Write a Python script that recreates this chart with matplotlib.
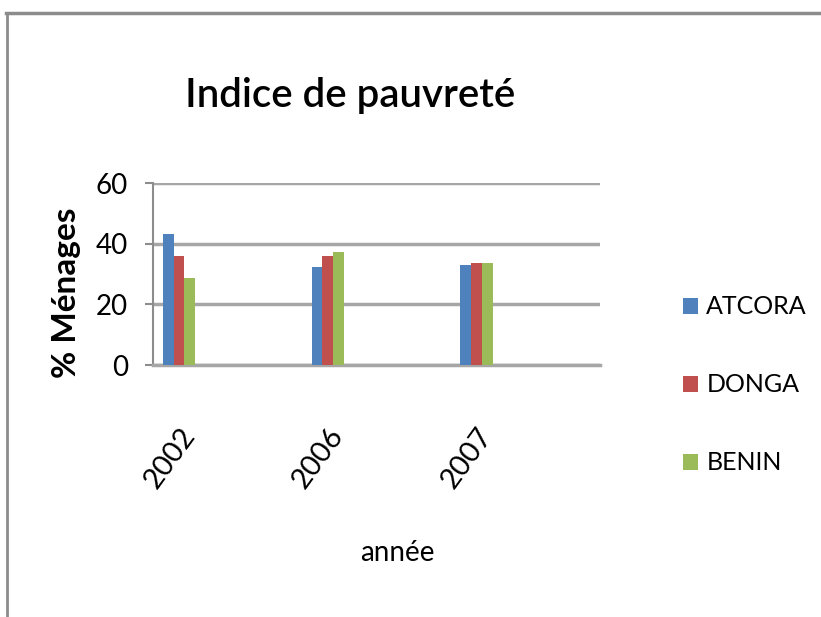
import numpy as np
import matplotlib
matplotlib.use("Agg")
import matplotlib.pyplot as plt
from matplotlib.lines import Line2D
from matplotlib.patches import Patch

plt.rcParams['font.family'] = ['Lato', 'DejaVu Sans']

years = ['2002', '2006', '2007']
series = ['ATCORA', 'DONGA', 'BENIN']
atcora = [43.2, 32.4, 33.0]
donga = [36.0, 36.0, 33.5]
benin = [28.6, 37.3, 33.5]
colors = ['#4F81BD', '#C0504D', '#9BBB59']

fig = plt.figure(figsize=(8.21, 6.17), dpi=100)

# chart frame (only top and left edges visible)
fig.add_artist(Line2D([6 / 821, 1.0], [1 - 13 / 617, 1 - 13 / 617],
                      transform=fig.transFigure, color='#8c8c8c', lw=2.5))
fig.add_artist(Line2D([7 / 821, 7 / 821], [0.0, 1 - 13 / 617],
                      transform=fig.transFigure, color='#8c8c8c', lw=2.0))

ax = fig.add_axes([153 / 821, 1 - 365 / 617, 447 / 821, 182 / 617])

x = np.arange(len(years))
w = 0.0726
for i, (vals, name) in enumerate(zip([atcora, donga, benin], series)):
    ax.bar(x + (i - 1) * w, vals, width=w, color=colors[i], label=name, zorder=3)

ax.set_xlim(-0.175, 2.83)
ax.set_ylim(0, 60)
ax.set_yticks([0, 20, 40, 60])
ax.yaxis.grid(True, color='#a6a6a6', lw=2.5, zorder=0)
ax.set_axisbelow(True)

for s in ['top', 'right']:
    ax.spines[s].set_visible(False)
ax.spines['left'].set_color('#8c8c8c')
ax.spines['left'].set_linewidth(1.5)
ax.spines['bottom'].set_color('#a6a6a6')
ax.spines['bottom'].set_linewidth(2.5)

ax.tick_params(axis='y', length=6, width=1.5, color='#8c8c8c', labelsize=20, pad=12)
ax.tick_params(axis='x', length=0, labelsize=21, pad=42)
ax.set_xticks(x)
ax.set_xticklabels(years, rotation=54, ha='right', rotation_mode='anchor')

fig.text(350 / 821, 1 - 95 / 617, 'Indice de pauvreté', ha='center', va='center',
         fontsize=29, fontweight='semibold')
fig.text(66 / 821, 1 - 293 / 617, '% Ménages', ha='center', va='center',
         rotation=90, fontsize=24, fontweight='bold')
fig.text(397 / 821, 1 - 553 / 617, 'année', ha='center', va='center', fontsize=20)

handles = [Patch(facecolor=c, edgecolor='none') for c in colors]
fig.legend(handles, series, loc='center left', bbox_to_anchor=(660 / 821, 1 - 385 / 617),
           frameon=False, fontsize=18, handlelength=0.6, handleheight=0.6,
           handletextpad=0.35, labelspacing=2.2)

fig.savefig('out.png', dpi=100)
